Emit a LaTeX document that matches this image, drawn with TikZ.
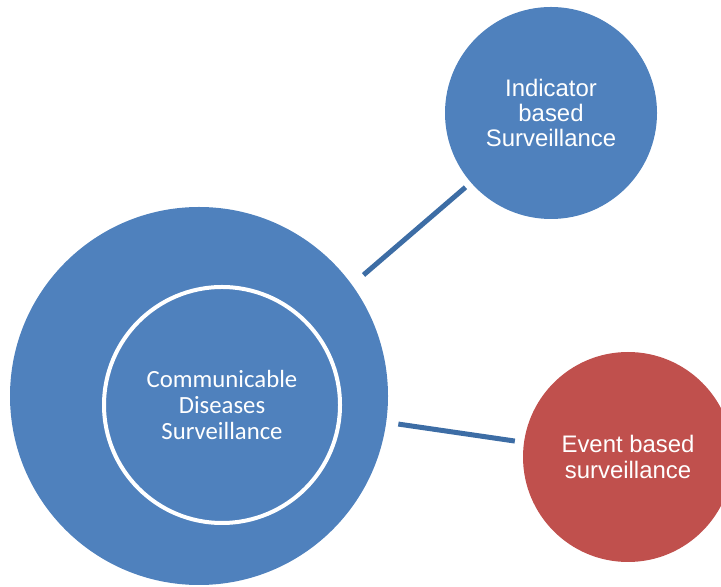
\documentclass[tikz,border=0pt]{standalone}
\usepackage{fontspec}
\setmainfont{Liberation Sans}
\newfontfamily\carlito{Carlito}
\usepackage{xcolor}
\usepackage{tikz}
\usetikzlibrary{shapes,arrows,positioning,calc}

\definecolor{survblue}{HTML}{4F81BD}
\definecolor{survred}{HTML}{C0504D}
\definecolor{linkblue}{HTML}{3D6DA5}

\begin{document}
\begin{tikzpicture}[
    outer/.style={circle, fill=survblue, minimum size=9.45cm, inner sep=0pt},
    core/.style={circle, draw=white, line width=0.1cm, minimum size=5.9cm, inner sep=0pt, text=white, align=center, font=\carlito\fontsize{17.6}{18.8}\selectfont},
    branch/.style={circle, minimum size=5.3cm, inner sep=0pt, text=white, align=center, font=\fontsize{17}{18}\selectfont},
    link/.style={draw=linkblue, line width=0.125cm}
]
    \useasboundingbox (0,0) rectangle (18.025,14.675);

    % Main surveillance circle
    \node[outer] (cds) at (4.975,4.775) {};
    \node[core] (cdsin) at (5.55,4.55) {Communicable\\Diseases\\Surveillance};

    % Branches
    \node[branch, fill=survblue] (ibs) at (13.775,11.85) {Indicator\\based\\Surveillance};
    \node[branch, fill=survred, minimum size=5.25cm, font=\fontsize{17}{18.6}\selectfont] (ebs) at (15.7,3.25) {Event based\\surveillance};

    % Links
    \draw[link, shorten <=0.375cm, shorten >=0.175cm] (cds.36) -- (ibs.221);
    \draw[link, shorten <=0.3cm, shorten >=0.225cm] (cds.352) -- (ebs.172);
\end{tikzpicture}
\end{document}
